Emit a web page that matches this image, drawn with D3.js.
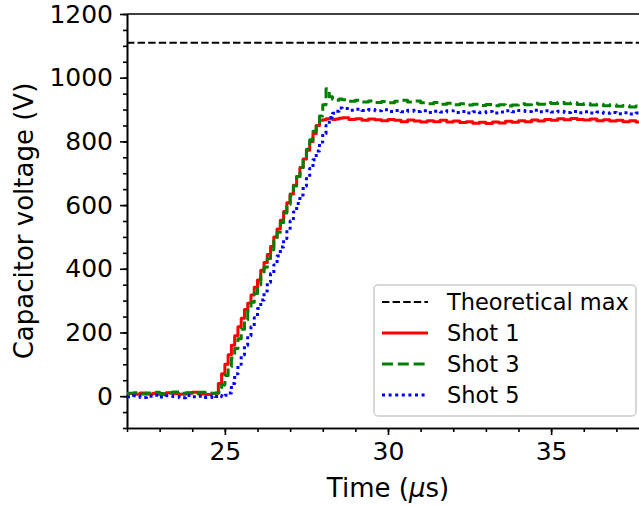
<!DOCTYPE html>
<html>
<head>
<meta charset="utf-8">
<script src="https://cdn.jsdelivr.net/npm/d3@7"></script>
<style>
    body { margin: 0; background: #ffffff; }
    svg { display: block; font-family: "DejaVu Sans", sans-serif; }
    .axis path, .axis line { stroke: #000000; stroke-width: 1.6; }
    .axis text { font-family: "DejaVu Sans", sans-serif; font-size: 25px; fill: #000000; }
</style>
</head>
<body>
<div id="chart"></div>
<script>
// Sample times (microseconds), shared by all shots; finer around the rise
var timeUs = [
    22.0, 22.2, 22.4, 22.6, 22.8, 23.0, 23.2, 23.4, 23.6, 23.8, 24.0, 24.2, 24.4, 24.6,
    24.7, 24.8, 24.9, 25.0, 25.1, 25.2, 25.3, 25.4, 25.5, 25.6,
    25.7, 25.8, 25.9, 26.0, 26.1, 26.2, 26.3, 26.4, 26.5, 26.6,
    26.7, 26.8, 26.9, 27.0, 27.1, 27.2, 27.3, 27.4, 27.5, 27.6,
    27.7, 27.8, 27.9, 28.0, 28.1, 28.2, 28.3, 28.4, 28.5, 28.6,
    28.8, 29.0, 29.2, 29.4, 29.6, 29.8, 30.0,
    30.2, 30.4, 30.6, 30.8, 31.0, 31.2, 31.4, 31.6, 31.8, 32.0,
    32.2, 32.4, 32.6, 32.8, 33.0, 33.2, 33.4, 33.6, 33.8, 34.0,
    34.2, 34.4, 34.6, 34.8, 35.0, 35.2, 35.4, 35.6, 35.8, 36.0,
    36.2, 36.4, 36.6, 36.8, 37.0, 37.2, 37.4, 37.6, 37.8, 38.0
];

// Capacitor voltage (V)
var shot1 = [
    8, 6, 10, 7, 9, 5, 11, 8, 6, 9, 12, 7, 5, 8,
    9, 40, 70, 100, 130, 160, 190, 218, 245, 272,
    292, 318, 342, 365, 395, 420, 445, 470, 500, 525,
    552, 580, 607, 635, 662, 690, 718, 745, 772, 800,
    825, 850, 866, 868, 871, 872, 869, 870, 873, 874,
    869, 871, 866, 870, 868, 865, 869,
    866, 862, 867, 864, 861, 865, 862, 866, 861, 864,
    859, 862, 857, 860, 856, 861, 858, 863, 860, 865,
    862, 867, 864, 869, 866, 871, 868, 872, 869, 867,
    870, 865, 868, 864, 866, 862, 865, 861, 863, 860
];
var shot3 = [
    9, 11, 7, 10, 12, 8, 10, 13, 9, 11, 8, 12, 10, 9,
    10, 12, 35, 65, 92, 120, 150, 180, 210, 240,
    268, 295, 322, 350, 378, 405, 432, 460, 488, 515,
    545, 575, 602, 630, 660, 690, 718, 745, 775, 805,
    832, 858, 880, 915, 965, 940, 932, 929, 933, 931,
    926, 929, 924, 927, 922, 925, 921,
    926, 929, 924, 927, 921, 918, 922, 917, 920, 915,
    918, 914, 917, 913, 916, 912, 915, 911, 914, 918,
    915, 920, 917, 922, 919, 923, 918, 921, 916, 919,
    914, 917, 912, 915, 910, 913, 908, 911, 906, 908
];
var shot5 = [
    -2, 1, -4, 0, 3, -3, 1, -1, -5, 2, -2, 0, -4, 1,
    -1, 2, -2, 3, 10, 40, 70, 100, 130, 160,
    190, 218, 246, 275, 302, 330, 358, 385, 412, 440,
    468, 495, 522, 550, 578, 605, 632, 660, 688, 715,
    742, 770, 798, 825, 850, 875, 888, 895, 905, 903,
    898, 901, 897, 900, 896, 899, 894,
    897, 893, 898, 894, 896, 891, 895, 892, 896, 891,
    894, 889, 893, 890, 894, 889, 892, 896, 893, 897,
    894, 898, 893, 896, 892, 895, 891, 894, 890, 893,
    889, 892, 888, 891, 887, 890, 886, 889, 885, 887
];
var theoreticalMax = 1110;

var seriesNames = ["Shot 1", "Shot 3", "Shot 5"];
var seriesValues = [shot1, shot3, shot5];

var xMajorTicks = [25, 30, 35];
var yMajorTicks = [0, 200, 400, 600, 800, 1000, 1200];

// Line styles (matplotlib r-, g--, b:)
var styles = {
    "Theoretical max": {color: "#000000", width: 2, dash: "7.4,3.2"},
    "Shot 1": {color: "#ff0000", width: 3, dash: null},
    "Shot 3": {color: "#008000", width: 3, dash: "11,4.8"},
    "Shot 5": {color: "#0000ff", width: 3, dash: "3,3.6"}
};

// SVG drawing area
var margin = {top: 14, right: -10, bottom: 78, left: 127};
var totalWidth = 639, totalHeight = 506;
var width = totalWidth - margin.left - margin.right;
var height = totalHeight - margin.top - margin.bottom;

var svg = d3.select("#chart").append("svg")
    .attr("width", totalWidth)
    .attr("height", totalHeight);

var g = svg.append("g")
    .attr("transform", "translate(" + margin.left + "," + margin.top + ")");

var x = d3.scaleLinear().domain([22, 38]).range([0, width]);
var y = d3.scaleLinear().domain([-100, 1200]).range([height, 0]);

g.append("clipPath")
    .attr("id", "plotClip")
    .append("rect")
    .attr("width", width)
    .attr("height", height);

// Minor ticks first, then major axes with labels
g.append("g")
    .attr("class", "axis")
    .attr("transform", "translate(0," + height + ")")
    .call(d3.axisBottom(x).tickValues(d3.range(22, 39, 1)).tickSize(4).tickSizeOuter(0).tickFormat(""));
g.append("g")
    .attr("class", "axis")
    .call(d3.axisLeft(y).tickValues(d3.range(-100, 1201, 50)).tickSize(4).tickSizeOuter(0).tickFormat(""));

g.append("g")
    .attr("class", "axis")
    .attr("transform", "translate(0," + height + ")")
    .call(d3.axisBottom(x).tickValues(xMajorTicks).tickSize(7).tickPadding(7).tickSizeOuter(0)
        .tickFormat(d3.format("d")));
g.append("g")
    .attr("class", "axis")
    .call(d3.axisLeft(y).tickValues(yMajorTicks).tickSize(7).tickPadding(7).tickSizeOuter(0)
        .tickFormat(d3.format("d")));

// top and right spines
g.append("line")
    .attr("x1", 0).attr("x2", width)
    .attr("y1", 0).attr("y2", 0)
    .style("stroke", "#000").style("stroke-width", 1.6);
g.append("line")
    .attr("x1", width).attr("x2", width)
    .attr("y1", 0).attr("y2", height)
    .style("stroke", "#000").style("stroke-width", 1.6);

var plot = g.append("g").attr("clip-path", "url(#plotClip)");

// Theoretical max
plot.append("line")
    .attr("x1", 0).attr("x2", width)
    .attr("y1", y(theoreticalMax)).attr("y2", y(theoreticalMax))
    .style("stroke", styles["Theoretical max"].color)
    .style("stroke-width", styles["Theoretical max"].width)
    .style("stroke-dasharray", styles["Theoretical max"].dash);

var line = d3.line()
    .curve(d3.curveStepAfter)
    .x(function (d) { return x(d[0]); })
    .y(function (d) { return y(d[1]); });

seriesNames.forEach(function (name, k) {
    var pts = timeUs.map(function (t, i) { return [t, seriesValues[k][i]]; });
    var st = styles[name];
    plot.append("path")
        .datum(pts)
        .attr("d", line)
        .style("fill", "none")
        .style("stroke", st.color)
        .style("stroke-width", st.width)
        .style("stroke-dasharray", st.dash)
        .style("stroke-linejoin", "round");
});

// Axis labels
svg.append("text")
    .attr("transform", "translate(33," + (margin.top + height / 2) + ") rotate(-90)")
    .attr("text-anchor", "middle")
    .style("font-size", "26px")
    .text("Capacitor voltage (V)");

var xLabel = svg.append("text")
    .attr("x", margin.left + width / 2)
    .attr("y", 497)
    .attr("text-anchor", "middle")
    .style("font-size", "26px");
xLabel.append("tspan").text("Time (");
xLabel.append("tspan").style("font-style", "italic").text("\u03bc");
xLabel.append("tspan").text("s)");

// Legend
var legendNames = ["Theoretical max"].concat(seriesNames);
var legend = svg.append("g").attr("class", "legend");

legend.append("rect")
    .attr("x", 374).attr("y", 285)
    .attr("width", 262).attr("height", 131)
    .attr("rx", 4)
    .style("fill", "#ffffff").style("fill-opacity", 0.8)
    .style("stroke", "#cccccc").style("stroke-width", 1.5);

var rows = legend.selectAll("g.row")
    .data(legendNames)
    .enter().append("g")
    .attr("class", "row")
    .attr("transform", function (d, i) { return "translate(0," + (302 + i * 31) + ")"; });

rows.append("line")
    .attr("x1", 382).attr("x2", 428)
    .style("stroke", function (d) { return styles[d].color; })
    .style("stroke-width", function (d) { return styles[d].width; })
    .style("stroke-dasharray", function (d) { return styles[d].dash; });

rows.append("text")
    .attr("x", 447)
    .attr("dy", "0.35em")
    .style("font-size", "22.5px")
    .text(function (d) { return d; });
</script>
</body>
</html>
